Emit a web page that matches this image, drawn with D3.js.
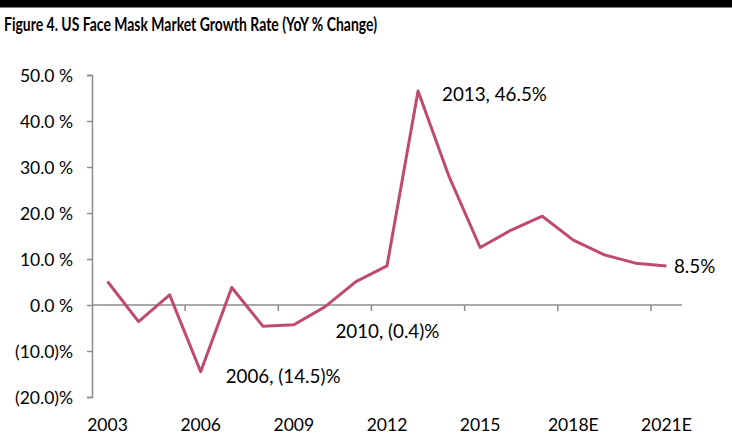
<!DOCTYPE html>
<html><head><meta charset="utf-8">
<script src="https://cdn.jsdelivr.net/npm/d3@7"></script>
<style>body{margin:0;background:#fff}svg{display:block}</style>
</head><body>
<svg id="c" width="732" height="444"></svg>
<script>
const categories = ["2003","2004","2005","2006","2007","2008","2009","2010","2011","2012","2013","2014","2015","2016","2017","2018E","2019E","2020E","2021E"];
const growth = [5.1,-3.6,2.2,-14.5,3.8,-4.6,-4.3,-0.4,5.1,8.5,46.5,27.9,12.5,16.3,19.3,14.1,10.9,9.1,8.5];
const yTicks = [50,40,30,20,10,0,-10,-20];
const xLabelCats = ["2003","2006","2009","2012","2015","2018E","2021E"];
const annotations = [
  {cat:"2006", text:"2006, (14.5)%"},
  {cat:"2010", text:"2010, (0.4)%"},
  {cat:"2013", text:"2013, 46.5%"},
  {cat:"2021E", text:"8.5%"}
];
const title = "Figure 4. US Face Mask Market Growth Rate (YoY % Change)";

const svg = d3.select("#c");
const font = "Lato, 'Open Sans', sans-serif";
const left = 92, right = 682;
const x = d3.scaleBand().domain(categories).range([left, right]);
const y = d3.scaleLinear().domain([-20, 50]).range([397, 75]);

svg.append("rect").attr("x",0).attr("y",0).attr("width",732).attr("height",7.5).attr("fill","#000");
svg.append("text").attr("x",4).attr("y",31).attr("font-family",font).attr("font-weight","bold")
  .attr("font-size",18).attr("fill","#000").attr("textLength",373).attr("lengthAdjust","spacingAndGlyphs").text(title);

const fmt = v => v < 0 ? "(" + Math.abs(v).toFixed(1) + ")%" : v.toFixed(1) + " %";

// Y axis
const yAxis = d3.axisLeft(y).tickValues(yTicks).tickSize(5).tickFormat(fmt);
const gy = svg.append("g").attr("transform",`translate(${left},0)`).call(yAxis);
gy.select(".domain").attr("stroke","#8c8c8c").attr("stroke-width",1.5);
gy.selectAll(".tick line").attr("stroke","#8c8c8c").attr("stroke-width",1.5);
gy.selectAll(".tick text").attr("font-family",font).attr("font-size",17.5).attr("fill","#000").attr("x",-19).attr("dy","0.35em");

// X axis at zero, ticks at every 3rd category boundary
const gx = svg.append("g");
gx.append("line").attr("x1",left).attr("x2",right).attr("y1",y(0)).attr("y2",y(0)).attr("stroke","#8c8c8c").attr("stroke-width",1.5);
const bounds = categories.map((c,i)=>i).filter(i=>i>0 && i%3===0);
gx.selectAll(".xt").data(bounds).join("line").attr("class","xt")
  .attr("x1",i=>x(categories[i])).attr("x2",i=>x(categories[i]))
  .attr("y1",y(0)).attr("y2",y(0)+6).attr("stroke","#8c8c8c").attr("stroke-width",1.5);
gx.selectAll(".xl").data(xLabelCats).join("text").attr("class","xl")
  .attr("x",c=>x(c)+x.bandwidth()/2).attr("y",425).attr("dy","0.35em")
  .attr("text-anchor","middle").attr("font-family",font).attr("font-size",17.5).attr("fill","#000").text(c=>c);

// Line
const line = d3.line().x((d,i)=>x(categories[i])+x.bandwidth()/2).y(d=>y(d));
svg.append("path").datum(growth).attr("d",line).attr("fill","none")
  .attr("stroke","#be4b6c").attr("stroke-width",3).attr("stroke-linejoin","round");

// Annotations
const annPos = {"2006":{dx:25,dy:4.5},"2010":{dx:10.5,dy:25},"2013":{dx:24,dy:3},"2021E":{dx:7.5,dy:1}};
annotations.forEach(a=>{
  const i = categories.indexOf(a.cat);
  const p = annPos[a.cat];
  svg.append("text").attr("x",x(a.cat)+x.bandwidth()/2+p.dx).attr("y",y(growth[i])+p.dy).attr("dy","0.35em")
    .attr("text-anchor","start").attr("font-family",font).attr("font-size",18.8).attr("fill","#000").text(a.text);
});
</script>
</body></html>
